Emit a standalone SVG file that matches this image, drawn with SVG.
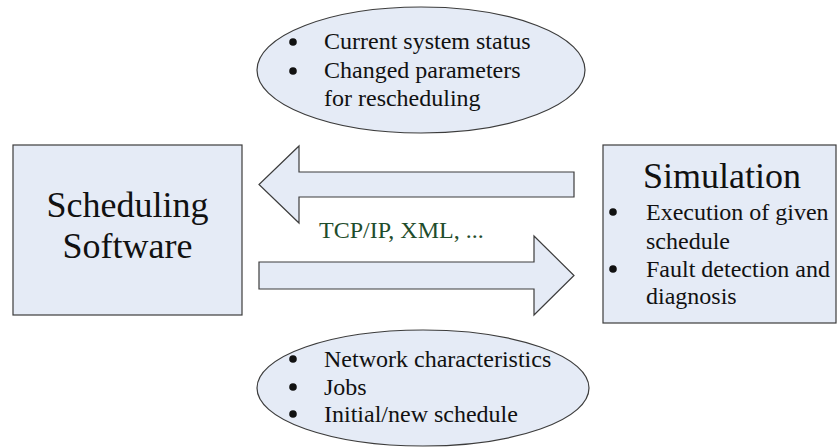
<svg xmlns="http://www.w3.org/2000/svg" width="838" height="448" viewBox="0 0 838 448">
  <style>
    .shape { fill: #e5ebf6; stroke: #3c3c3c; stroke-width: 1.2; }
    text { font-family: "Liberation Serif", "Times New Roman", serif; fill: #111; }
    .title { font-size: 36px; }
    .item { font-size: 24px; }
    .proto { font-size: 24px; fill: #1f4d2c; }
    .dot { fill: #111; }
  </style>
  <rect width="838" height="448" fill="#ffffff"/>

  <!-- feedback data from simulation -->
  <g id="status-info">
    <ellipse class="shape" cx="421" cy="70" rx="164" ry="63"/>
    <circle class="dot" cx="293" cy="42" r="3.8"/>
    <circle class="dot" cx="293" cy="71" r="3.8"/>
    <text class="item" x="324" y="49">Current system status</text>
    <text class="item" x="324" y="78">Changed parameters</text>
    <text class="item" x="324" y="106">for rescheduling</text>
  </g>

  <!-- scheduler -->
  <g id="scheduling-software">
    <rect class="shape" x="13" y="145" width="229" height="170"/>
    <text class="title" x="127.5" y="217" text-anchor="middle">Scheduling</text>
    <text class="title" x="127.5" y="258" text-anchor="middle">Software</text>
  </g>

  <!-- simulation model -->
  <g id="simulation">
    <rect class="shape" x="603" y="145" width="233" height="178"/>
    <text class="title" x="722" y="188" text-anchor="middle">Simulation</text>
    <circle class="dot" cx="613" cy="212" r="3.8"/>
    <circle class="dot" cx="613" cy="269" r="3.8"/>
    <text class="item" x="646" y="220">Execution of given</text>
    <text class="item" x="646" y="249">schedule</text>
    <text class="item" x="646" y="277">Fault detection and</text>
    <text class="item" x="646" y="304">diagnosis</text>
  </g>

  <!-- input data to simulation -->
  <g id="schedule-info">
    <ellipse class="shape" cx="423" cy="388" rx="166" ry="58"/>
    <circle class="dot" cx="293" cy="359" r="3.8"/>
    <circle class="dot" cx="293" cy="387" r="3.8"/>
    <circle class="dot" cx="293" cy="414" r="3.8"/>
    <text class="item" x="324" y="367">Network characteristics</text>
    <text class="item" x="324" y="395">Jobs</text>
    <text class="item" x="324" y="422">Initial/new schedule</text>
  </g>

  <!-- block arrows between the two systems -->
  <g id="connectors">
    <polygon class="shape" points="574,172 299,172 299,146 259,184.5 299,223 299,197 574,197"/>
    <polygon class="shape" points="259,262 534,262 534,236 574,275.5 534,315 534,289 259,289"/>
    <text class="proto" x="319" y="238">TCP/IP, XML, ...</text>
  </g>
</svg>
